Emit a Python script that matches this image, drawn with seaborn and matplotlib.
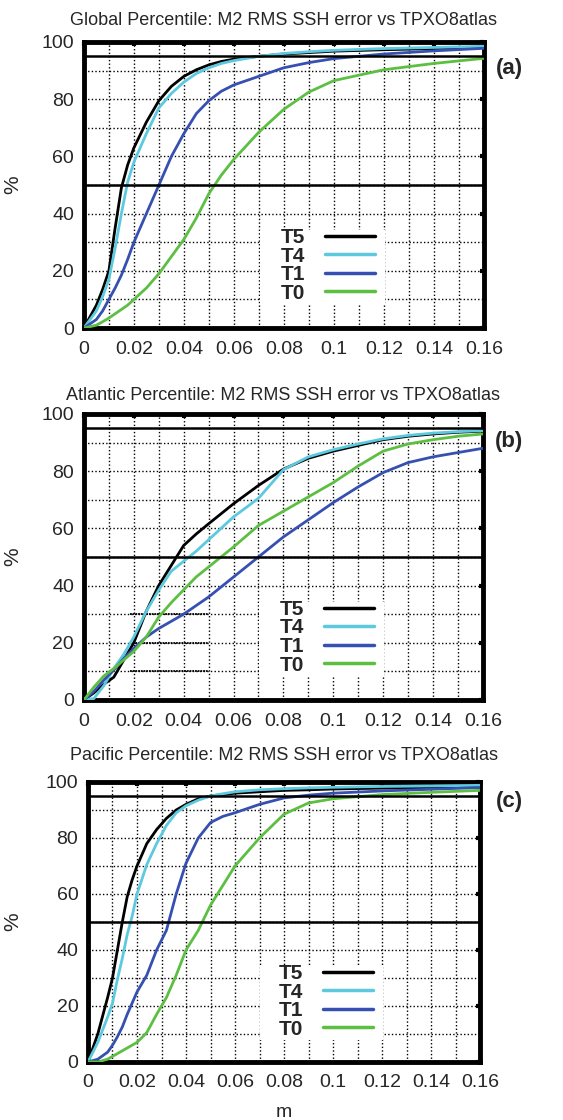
import numpy as np
import pandas as pd
import seaborn as sns
import matplotlib.pyplot as plt
from matplotlib.patches import Rectangle
from matplotlib.ticker import MultipleLocator

# run names and colours
runs = ['T5', 'T4', 'T1', 'T0']
run_colors = ['#000000', '#5cc9df', '#3550b0', '#5cbf42']

x_ticks = [0, 0.02, 0.04, 0.06, 0.08, 0.1, 0.12, 0.14, 0.16]
x_tick_labels = ['0', '0.02', '0.04', '0.06', '0.08', '0.1', '0.12', '0.14', '0.16']
y_ticks = [0, 20, 40, 60, 80, 100]

# Global panel (a)
glob_x = [0, .005, .0075, .01, .0125, .015, .0175, .02, .025, .03, .035, .04, .045, .05, .055, .06, .07, .08, .09, .1, .12, .14, .16]
glob_t5 = [0, 8, 13.5, 20, 35, 49, 57, 63, 72, 79.5, 84.5, 88, 90.3, 92, 93.2, 94, 95, 95.8, 96.3, 96.8, 97.3, 97.7, 98.2]
glob_t4 = [0, 6, 11, 17, 28, 40, 51, 58, 68, 77, 82, 86, 89, 91, 92.5, 93.5, 95, 96, 96.6, 97.1, 97.7, 98.1, 98.5]
glob_t1 = [0, 3, 6, 10, 14, 18.5, 24, 30, 40, 50, 60, 68, 75, 79.5, 82.8, 85, 88, 91, 92.8, 94.2, 95.8, 96.9, 97.8]
glob_t0 = [0, 1, 2.2, 3.5, 5, 6.5, 8, 10, 14, 19, 25, 31, 38.5, 47, 53.5, 59, 68.5, 76.5, 82.5, 86.5, 90.3, 92.5, 94.3]

# Atlantic panel (b)
atl_x = [0, .004, .008, .012, .016, .02, .025, .03, .035, .04, .045, .05, .06, .07, .08, .09, .1, .11, .12, .13, .14, .15, .16]
atl_t5 = [0, 2.5, 5.5, 8, 14, 20, 31, 40, 47, 54, 58, 61.6, 68.6, 75, 80.7, 84.5, 87, 89, 91, 92.2, 93, 93.6, 94]
atl_t4 = [0, 0.5, 5, 11, 16, 22, 31, 38.4, 45, 48.5, 52, 56, 64, 70.5, 80.5, 85, 87.5, 89.5, 91.3, 92.5, 93.3, 93.8, 94.2]
atl_t1 = [0, 3, 7, 10.5, 14.5, 18, 22, 25, 27.5, 30, 33, 36, 43, 50, 57, 63, 69, 74.5, 79.5, 83, 85, 86.5, 88]
atl_t0 = [0, 4.5, 8.4, 11, 14, 17, 22, 29, 34, 38.5, 43, 46.5, 53.5, 61, 66, 71, 76, 81.8, 87, 89.5, 91, 92.2, 93]
atl_mark_y = [10, 20, 30]

# Pacific panel (c)
pac_x = [0, .004, .008, .01, .012, .014, .016, .018, .02, .024, .028, .032, .036, .04, .045, .05, .055, .06, .07, .08, .09, .1, .12, .14, .16]
pac_t5 = [0, 10, 23, 30, 40, 50, 59, 65, 70, 78, 83, 87, 90, 92, 94, 95, 95.5, 96, 96.5, 97, 97.2, 97.5, 97.8, 98, 98.2]
pac_t4 = [0, 7, 16, 21, 29.5, 37, 45.5, 52, 60, 70.5, 78, 84.5, 89, 91.5, 93.5, 95, 95.8, 96.5, 97.2, 97.6, 97.9, 98.1, 98.4, 98.6, 98.8]
pac_t1 = [0, 1, 3.5, 6, 9, 12.5, 17, 21, 25, 31, 40, 47, 60, 71, 80, 85.5, 87.7, 89, 92, 94.3, 95.3, 96, 96.8, 97.4, 98]
pac_t0 = [0, 0, 1, 2, 3, 4, 5, 6, 7, 10.5, 17, 23, 31, 40, 47, 56, 63, 70, 80, 88.5, 92.5, 94, 95.5, 96.3, 97]

panels = [
    ('Global Percentile: M2 RMS SSH error vs TPXO8atlas', '(a)', glob_x, [glob_t5, glob_t4, glob_t1, glob_t0]),
    ('Atlantic Percentile: M2 RMS SSH error vs TPXO8atlas', '(b)', atl_x, [atl_t5, atl_t4, atl_t1, atl_t0]),
    ('Pacific Percentile: M2 RMS SSH error vs TPXO8atlas', '(c)', pac_x, [pac_t5, pac_t4, pac_t1, pac_t0]),
]

sns.set_style('white')
plt.rcParams['font.family'] = ['Liberation Sans', 'DejaVu Sans']

fig = plt.figure(figsize=(5.63, 11.2), dpi=100)
# axes boxes in figure fractions
boxes = [[0.149, 0.7071, 0.7105, 0.2554],
         [0.149, 0.375, 0.7087, 0.2554],
         [0.1563, 0.0518, 0.6963, 0.25]]
title_pads = [12, 10, 16]
letter_pos = [(1.03, 0.909), (1.03, 0.902), (1.04, 0.929)]

for i, (title, letter, xs, series) in enumerate(panels):
    ax = fig.add_axes(boxes[i])
    df = pd.concat([pd.DataFrame({'m': xs, 'pct': ys, 'run': r}) for r, ys in zip(runs, series)])
    sns.lineplot(data=df, x='m', y='pct', hue='run', hue_order=runs, palette=run_colors,
                 linewidth=2.0, estimator=None, sort=False, ax=ax, zorder=3,
                 solid_joinstyle='round')

    ax.set_xlim(0, 0.16)
    ax.set_ylim(0, 100)
    ax.set_xticks(x_ticks)
    ax.set_xticklabels(x_tick_labels)
    ax.set_yticks(y_ticks)
    ax.xaxis.set_minor_locator(MultipleLocator(0.01))
    ax.yaxis.set_minor_locator(MultipleLocator(10))
    ax.grid(which='both', color='black', linestyle=(0, (1, 1.6)), linewidth=1.0)
    ax.set_axisbelow(True)
    ax.tick_params(which='major', direction='in', length=3, width=3, labelsize=14,
                   top=True, right=True, pad=7, color='black')
    ax.tick_params(axis='x', pad=9)
    ax.tick_params(which='minor', length=0)
    for s in ax.spines.values():
        s.set_linewidth(3.5)
        s.set_color('black')

    ax.axhline(50, color='black', linewidth=1.8, zorder=4)
    ax.axhline(95, color='black', linewidth=1.8, zorder=4)

    if letter == '(b)':
        ax.hlines(atl_mark_y, 0.0184, 0.0496, colors='black', linestyles=(0, (1, 0.5)), linewidth=1.3, zorder=2)

    ax.set_title(title, fontsize=13, pad=title_pads[i])
    ax.set_ylabel('%', fontsize=15)
    ax.yaxis.set_label_coords((22 - boxes[i][0] * 563) / (boxes[i][2] * 563), 0.5)
    if i == 2:
        ax.set_xlabel('m', fontsize=14)
        ax.xaxis.set_label_coords(0.5, -0.15)
    else:
        ax.set_xlabel('')

    ax.text(letter_pos[i][0], letter_pos[i][1], letter, transform=ax.transAxes,
            fontsize=16, fontweight='bold', ha='left', va='center')

    # white area behind the key
    ax.add_patch(Rectangle((0.44, 0.08), 0.3125, 0.263, transform=ax.transAxes,
                           facecolor='white', edgecolor='none', zorder=2.5))
    handles, labels = ax.get_legend_handles_labels()
    leg = ax.legend(handles, labels, loc='upper right', bbox_to_anchor=(0.7275, 0.35),
                    frameon=False, markerfirst=False, handlelength=2.4, handletextpad=0.95,
                    labelspacing=-0.02, borderpad=0, borderaxespad=0,
                    prop={'weight': 'bold', 'size': 15})
    for h in leg.get_lines():
        h.set_linewidth(2.5)
    leg.set_zorder(6)

fig.savefig('out.png', dpi=100)
